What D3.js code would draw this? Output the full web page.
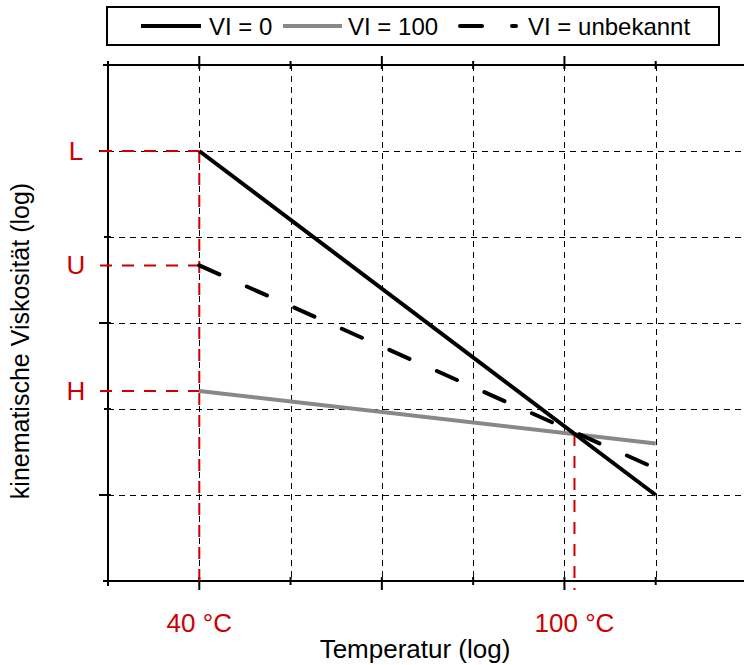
<!DOCTYPE html>
<html>
<head lang="de">
  <meta charset="UTF-8">
<title>Viskositaetsindex</title>
<style>
body { margin: 0; background: #fff; }
.txt { font-family: "Liberation Sans", Arial, sans-serif; font-size: 24px; }
.big { font-size: 26px; }
</style>
<script src="https://cdn.jsdelivr.net/npm/d3@7/dist/d3.min.js"></script>
</head>
<body>
<div id="vis"></div>

<script>

// data (abstract log units)
var xTicks = [0, 1, 2, 3, 4, 5, 6, 7];
var yTicks = [0, 1, 2, 3, 4, 5, 6];
var xGrid = [1, 2, 3, 4, 5, 6];
var yGrid = [1, 2, 3, 4, 5];

var vi0 = [[1, 5], [6, 1]];
var vi100 = [[1, 2.21], [6, 1.60]];
var viUnbekannt = [[1, 3.67], [6, 1.31]];

var yMarks = [{name: "L", x: 1, y: 5}, {name: "U", x: 1, y: 3.67}, {name: "H", x: 1, y: 2.21}];
var xMarks = [{name: "40 °C", x: 1, y: 5}, {name: "100 °C", x: 5.11, y: 1.71}];

var legendNames = ["VI = 0", "VI = 100", "VI = unbekannt"];

var red = "#cc0000";

// canvas
var width = 744, height = 665;
var svg = d3.select("#vis").append("svg")
  .attr("width", width)
  .attr("height", height);

var x = d3.scaleLinear().domain([0, 7]).range([108, 747]);
var y = d3.scaleLinear().domain([0, 6]).range([581, 65]);

// grid
svg.selectAll(".vgrid").data(xGrid).enter().append("line")
  .attr("x1", function(d) { return Math.round(x(d)) + 0.5; })
  .attr("x2", function(d) { return Math.round(x(d)) + 0.5; })
  .attr("y1", y(6))
  .attr("y2", y(0))
  .attr("stroke", "#000")
  .attr("stroke-width", 1)
  .attr("stroke-dasharray", "6,5");

svg.selectAll(".hgrid").data(yGrid).enter().append("line")
  .attr("x1", x(0))
  .attr("x2", width)
  .attr("y1", function(d) { return Math.round(y(d)) + 0.5; })
  .attr("y2", function(d) { return Math.round(y(d)) + 0.5; })
  .attr("stroke", "#000")
  .attr("stroke-width", 1)
  .attr("stroke-dasharray", "6,5");

// axes: top, bottom, left
function tickLen(i) { return (i % 2 == 1) ? 9 : 4; }

[y(6), y(0)].forEach(function(yy, k) {
  svg.append("line")
    .attr("x1", x(0) - 5).attr("x2", width)
    .attr("y1", yy).attr("y2", yy)
    .attr("stroke", "#000").attr("stroke-width", 2);
  var dir = (k == 0) ? -1 : 1;
  svg.selectAll(null).data(xTicks.slice(0, 7)).enter().append("line")
    .attr("x1", function(d) { return x(d); })
    .attr("x2", function(d) { return x(d); })
    .attr("y1", yy - dir * 4)
    .attr("y2", function(d, i) { return yy + dir * tickLen(i); })
    .attr("stroke", "#000").attr("stroke-width", 2);
});

svg.append("line")
  .attr("x1", x(0)).attr("x2", x(0))
  .attr("y1", y(6) - 3).attr("y2", y(0) + 5)
  .attr("stroke", "#000").attr("stroke-width", 2);

svg.selectAll(null).data(yTicks).enter().append("line")
  .attr("x1", function(d, i) { return x(0) - tickLen(i); })
  .attr("x2", x(0) + 3)
  .attr("y1", function(d) { return y(d); })
  .attr("y2", function(d) { return y(d); })
  .attr("stroke", "#000").attr("stroke-width", 2);

// red helper lines
svg.selectAll(null).data(yMarks).enter().append("line")
  .attr("x1", x(0) - 8)
  .attr("x2", function(d) { return x(d.x); })
  .attr("y1", function(d) { return y(d.y); })
  .attr("y2", function(d) { return y(d.y); })
  .attr("stroke", red).attr("stroke-width", 2)
  .attr("stroke-dasharray", "12,10");

svg.selectAll(null).data(xMarks).enter().append("line")
  .attr("x1", function(d) { return x(d.x); })
  .attr("x2", function(d) { return x(d.x); })
  .attr("y1", function(d) { return y(d.y); })
  .attr("y2", y(0) + 9)
  .attr("stroke", red).attr("stroke-width", 2)
  .attr("stroke-dasharray", "12,10");

// the three VI lines
var line = d3.line()
  .x(function(d) { return x(d[0]); })
  .y(function(d) { return y(d[1]); });

svg.append("path").datum(vi100)
  .attr("d", line).attr("fill", "none")
  .attr("stroke", "#888").attr("stroke-width", 4);

svg.append("path").datum(viUnbekannt)
  .attr("d", line).attr("fill", "none")
  .attr("stroke", "#000").attr("stroke-width", 4)
  .attr("stroke-linecap", "round")
  .attr("stroke-dasharray", "22,30");

svg.append("path").datum(vi0)
  .attr("d", line).attr("fill", "none")
  .attr("stroke", "#000").attr("stroke-width", 4);

// red labels
svg.selectAll(null).data(yMarks).enter().append("text")
  .attr("class", "txt big")
  .attr("x", 76)
  .attr("y", function(d) { return y(d.y) + 9; })
  .attr("text-anchor", "middle")
  .attr("fill", red)
  .text(function(d) { return d.name; });

svg.selectAll(null).data(xMarks).enter().append("text")
  .attr("class", "txt big")
  .attr("x", function(d) { return x(d.x); })
  .attr("y", 632)
  .attr("text-anchor", "middle")
  .attr("fill", red)
  .text(function(d) { return d.name; });

// axis titles
svg.append("text").attr("class", "txt big")
  .attr("x", 415).attr("y", 658)
  .attr("text-anchor", "middle")
  .text("Temperatur (log)");

svg.append("text").attr("class", "txt")
  .attr("transform", "translate(29,341) rotate(-90)")
  .attr("text-anchor", "middle")
  .attr("font-size", "25px")
  .style("font-size", "25px")
  .text("kinematische Viskosität (log)");

// legend
var lg = svg.append("g");
lg.append("rect")
  .attr("x", 107).attr("y", 7)
  .attr("width", 612).attr("height", 38)
  .attr("fill", "#fff").attr("stroke", "#000").attr("stroke-width", 2);

var legendStyle = [
  {c: "#000", dash: null, x0: 141, x1: 201, tx: 209},
  {c: "#888", dash: null, x0: 283, x1: 342, tx: 348},
  {c: "#000", dash: "22,30", x0: 460, x1: 516, tx: 528}
];

legendNames.forEach(function(nm, i) {
  var s = legendStyle[i];
  lg.append("line")
    .attr("x1", s.x0).attr("x2", s.x1)
    .attr("y1", 26).attr("y2", 26)
    .attr("stroke", s.c).attr("stroke-width", 4)
    .attr("stroke-linecap", s.dash ? "round" : "butt")
    .attr("stroke-dasharray", s.dash);
  lg.append("text").attr("class", "txt")
    .attr("x", s.tx).attr("y", 35)
    .text(nm);
});

</script>
</body>
</html>
